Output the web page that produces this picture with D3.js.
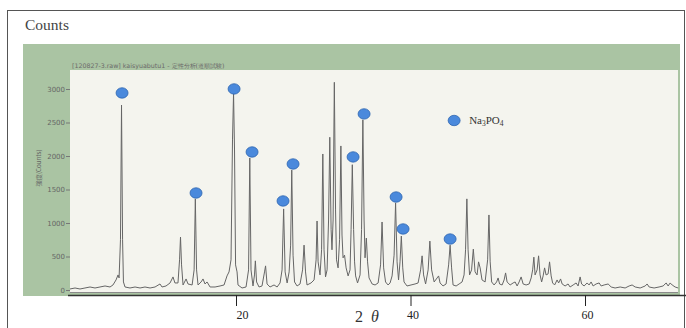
<!DOCTYPE html>
<html><head><meta charset="utf-8">
<script src="https://cdn.jsdelivr.net/npm/d3@7"></script>
<style>
html,body{margin:0;padding:0;background:#fff;}
svg{display:block;}
</style></head>
<body>
<svg id="chart" width="686" height="328"></svg>
<script>
// ---- data ----
const xTicks = [20, 40, 60];
const yTicks = [0, 500, 1000, 1500, 2000, 2500, 3000];
const phaseLabel = ["Na", "3", "PO", "4"];
const headerText = "[120827-3.raw] kaisyuabutu1 - 定性分析(道順試験)";
const yTitle = "強度(Counts)";
// marker positions for Na3PO4 peaks [2theta, counts]
const markers = [[6.94,2941],[15.42,1448],[19.78,3001],[21.84,2060],[25.39,1329],[26.54,1881],
  [33.42,1986],[34.68,2628],[38.35,1388],[39.15,911],[44.54,761]];
const legendPoint = [45.0, 2530];
// diffraction trace [2theta, counts]
const trace = [
[0.97,15],[1.55,30],[2.12,15],[2.69,30],[3.27,45],[3.84,30],[4.41,45],[4.99,60],[5.56,45],[5.9,75],[6.25,150],[6.48,225],[6.6,180],[6.76,750],[6.88,2760],[7.0,750],[7.1,120],[7.28,45],
[7.85,30],[8.43,45],[9.0,30],[9.57,45],[10.15,30],[10.72,45],[11.29,90],[11.52,45],[11.98,60],[12.44,105],[12.78,195],[13.0,105],[13.35,105],[13.53,450],[13.64,790],[13.76,375],[13.93,75],
[14.28,165],[14.5,90],[14.97,75],[15.2,300],[15.34,1360],[15.48,300],[15.65,75],[16.0,120],[16.22,165],[16.45,90],[16.68,120],[17.03,45],[17.6,45],[18.17,60],[18.63,75],[18.97,210],[19.2,270],
[19.43,450],[19.6,2240],[19.72,2940],[19.83,2090],[19.95,375],[20.12,270],[20.23,75],[20.69,30],[21.15,45],[21.44,300],[21.58,1970],[21.72,300],[21.95,60],[22.12,225],[22.22,435],[22.36,120],
[22.64,45],[22.98,60],[23.27,270],[23.39,360],[23.56,90],[23.9,45],[24.36,75],[24.71,45],[25.05,105],[25.28,300],[25.46,1210],[25.63,270],[25.86,105],[26.09,270],[26.26,670],[26.39,1790],
[26.54,520],[26.71,120],[27.0,60],[27.34,90],[27.63,300],[27.8,670],[27.97,270],[28.14,75],[28.6,105],[28.95,150],[29.18,450],[29.29,1030],[29.41,420],[29.63,225],[29.81,600],[29.95,2030],
[30.09,600],[30.26,195],[30.44,300],[30.61,1045],[30.75,2280],[30.9,900],[31.0,600],[31.13,1045],[31.27,3100],[31.41,1195],[31.52,450],[31.7,330],[31.87,750],[32.02,2150],[32.15,820],
[32.27,480],[32.44,520],[32.62,330],[32.85,210],[33.07,300],[33.19,900],[33.33,1870],[33.48,900],[33.59,420],[33.71,210],[33.93,105],[34.22,225],[34.39,900],[34.54,2540],[34.68,1045],
[34.79,480],[34.94,775],[35.08,420],[35.25,180],[35.6,90],[35.94,75],[36.29,105],[36.57,375],[36.74,1015],[36.92,330],[37.14,120],[37.43,75],[37.66,105],[37.89,210],[38.12,520],[38.29,1300],
[38.46,420],[38.63,150],[38.8,420],[38.95,805],[39.11,330],[39.26,120],[39.6,60],[40.06,75],[40.52,90],[40.87,105],[41.16,300],[41.33,510],[41.5,225],[41.73,90],[42.02,300],[42.22,730],
[42.42,300],[42.71,120],[43.05,180],[43.22,210],[43.39,105],[43.73,60],[44.08,90],[44.37,375],[44.54,670],[44.71,330],[44.88,75],[45.23,60],[45.57,90],[45.91,120],[46.14,225],[46.31,600],
[46.46,1360],[46.6,600],[46.77,225],[47.0,300],[47.2,610],[47.4,270],[47.63,225],[47.8,420],[47.98,330],[48.2,150],[48.55,120],[48.84,450],[48.99,1120],[49.13,420],[49.3,120],[49.58,75],
[49.87,120],[50.04,180],[50.21,90],[50.5,75],[50.73,150],[50.9,255],[51.07,120],[51.42,75],[51.76,105],[51.99,120],[52.22,60],[52.45,120],[52.68,195],[52.91,90],[53.25,75],[53.6,90],
[53.83,180],[54.0,300],[54.14,490],[54.28,225],[54.51,300],[54.68,510],[54.85,225],[55.03,120],[55.2,210],[55.37,330],[55.54,225],[55.77,240],[55.94,420],[56.12,210],[56.29,105],[56.52,75],
[56.8,150],[56.98,105],[57.2,165],[57.38,90],[57.72,60],[58.06,90],[58.29,45],[58.64,75],[58.98,105],[59.21,60],[59.44,195],[59.61,90],[59.9,60],[60.24,105],[60.47,75],[60.7,120],[60.93,60],
[61.27,90],[61.62,105],[61.85,60],[62.19,75],[62.65,90],[63.0,45],[63.45,30],[64.03,45],[64.6,30],[65.06,60],[65.4,75],[65.75,45],[66.32,30],[66.9,60],[67.12,90],[67.35,45],[67.92,30],
[68.49,45],[68.95,60],[69.3,105],[69.53,60],[69.76,105],[69.99,75],[70.33,45],[70.68,30]
];

// ---- drawing ----
const svg = d3.select("#chart");
const x = d3.scaleLinear().domain([20, 60]).range([236, 585]);
const y = d3.scaleLinear().domain([0, 3000]).range([290, 89]);

// outer frame
svg.append("rect").attr("x",7.5).attr("y",10.5).attr("width",677).attr("height",340)
  .attr("fill","#fff").attr("stroke","#555").attr("stroke-width",1);
svg.append("text").attr("x",25).attr("y",30).text("Counts")
  .attr("font-family","Liberation Serif, serif").attr("font-size",15.5).attr("fill","#444");

// green scanned background
svg.append("rect").attr("x",23).attr("y",44).attr("width",657).attr("height",252).attr("fill","#aac4a3");
// inner plot area
svg.append("rect").attr("x",70).attr("y",70).attr("width",608).attr("height",223).attr("fill","#f4f4ee");

svg.append("text").attr("x",72).attr("y",67.5).text(headerText)
  .attr("font-family","DejaVu Sans, sans-serif").attr("font-size",6.3).attr("fill","#6a6a6a");

// y axis
const ya = svg.append("g").attr("transform","translate(70,0)")
  .call(d3.axisLeft(y).tickValues(yTicks).tickSize(4).tickPadding(1).tickFormat(d3.format("d")));
ya.select(".domain").remove();
ya.selectAll("line").attr("stroke","#777");
ya.selectAll("text").attr("font-family","DejaVu Sans, sans-serif").attr("font-size",7).attr("fill","#666");

svg.append("text").attr("transform","translate(41,168) rotate(-90)").attr("text-anchor","middle")
  .text(yTitle).attr("font-family","Noto Sans CJK JP, sans-serif").attr("font-size",6.2).attr("fill","#666");

// trace
const line = d3.line().x(d => x(d[0])).y(d => y(d[1]));
svg.append("path").datum(trace).attr("d", line)
  .attr("fill","none").attr("stroke","#666").attr("stroke-width",1).attr("stroke-linejoin","round");

// faint baseline under plot
svg.append("line").attr("x1",70).attr("x2",678).attr("y1",292.5).attr("y2",292.5)
  .attr("stroke","#8a8a8a").attr("stroke-width",1);

// x axis
const xa = svg.append("g").attr("transform","translate(0,295)")
  .call(d3.axisBottom(x).tickValues(xTicks).tickSize(11).tickPadding(2).tickSizeOuter(0));
xa.select(".domain").attr("d","M68,0.5H686").attr("stroke","#333").attr("stroke-width",1.6);
xa.selectAll(".tick line").attr("stroke","#222").attr("stroke-width",1);
xa.selectAll("text").attr("font-family","Liberation Serif, serif").attr("font-size",12).attr("fill","#222")
  .attr("dx",(d)=> d===20 ? 6 : 2).attr("dy","0.9em");

svg.append("text").attr("x",355).attr("y",322).attr("font-family","Liberation Serif, serif")
  .attr("font-size",16).attr("fill","#333")
  .selectAll("tspan").data(["2 ","θ"]).join("tspan").text(d=>d)
  .attr("font-style",(d,i)=> i===1 ? "italic" : "normal").attr("dx",(d,i)=> i===1 ? 4 : 0);

// markers
svg.append("g").selectAll("ellipse").data(markers.concat([legendPoint])).join("ellipse")
  .attr("cx", d => x(d[0])).attr("cy", d => y(d[1])).attr("rx",6).attr("ry",5.2)
  .attr("fill","#4a89dc").attr("stroke","#2e66b0").attr("stroke-width",0.8);

// legend label
const lt = svg.append("text").attr("x", x(legendPoint[0]) + 15).attr("y", y(legendPoint[1]) + 4)
  .attr("font-family","Liberation Serif, serif").attr("font-size",11).attr("fill","#333");
phaseLabel.forEach((s,i) => {
  const sub = i % 2 === 1;
  lt.append("tspan").text(s).attr("font-size", sub ? 7.5 : 11).attr("dy", sub ? 2 : (i===0?0:-2));
});
</script>
</body></html>
